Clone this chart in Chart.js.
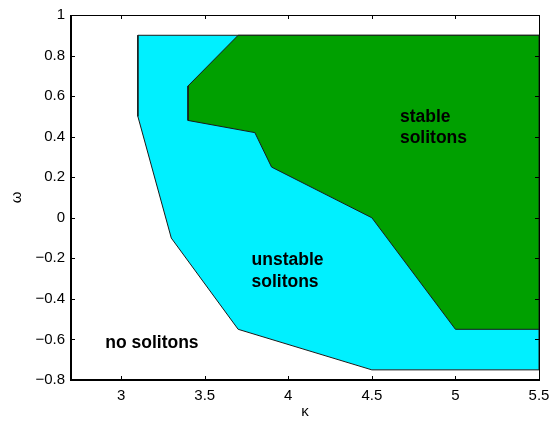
<!DOCTYPE html>
<html>
<head>
<meta charset="utf-8">
<script src="https://cdn.jsdelivr.net/npm/chart.js@4/dist/chart.umd.min.js"></script>
<style>
  html, body { margin: 0; padding: 0; background: #fff; }
  #wrap { width: 559px; height: 422px; }
</style>
</head>
<body>
<div id="wrap"><canvas id="c" width="559" height="422"></canvas></div>
<script>
// Existence region of solitons in the (kappa, omega) plane
const unstableKappa = [3.1, 3.1, 3.3, 3.7, 4.5, 5.5, 5.5, 3.1];
const unstableOmega = [0.9, 0.5, -0.1, -0.55, -0.75, -0.75, 0.9, 0.9];

const stableKappa = [3.7, 3.4, 3.4, 3.8, 3.9, 4.5, 5.0, 5.5, 5.5, 3.7];
const stableOmega = [0.9, 0.65, 0.48, 0.42, 0.25, 0.0, -0.55, -0.55, 0.9, 0.9];

const kappaTicks = [3, 3.5, 4, 4.5, 5, 5.5];
const omegaTicks = [-0.8, -0.6, -0.4, -0.2, 0, 0.2, 0.4, 0.6, 0.8, 1];

// Region labels: text lines, anchored at (kappa, omega) of the first baseline
const regionLabels = [
  { lines: ['stable', 'solitons'], kappa: 4.668, omega: 0.473 },
  { lines: ['unstable', 'solitons'], kappa: 3.78, omega: -0.234 },
  { lines: ['no solitons'], kappa: 2.905, omega: -0.644 }
];

const toPoints = (xs, ys) => xs.map((x, i) => ({ x: x, y: ys[i] }));
const fmt = v => {
  const s = (Math.round(v * 10) / 10).toString();
  return s.startsWith('-') ? '\u2212' + s.slice(1) : s;
};

const framePlugin = {
  id: 'frame',
  afterDatasetsDraw(chart) {
    const { ctx, chartArea: a, scales } = chart;
    const xs = scales.x, ys = scales.y;
    ctx.save();
    ctx.fillStyle = '#000';
    ctx.font = 'bold 17.5px "Liberation Sans", Arial, sans-serif';
    ctx.textAlign = 'left';
    ctx.textBaseline = 'alphabetic';
    regionLabels.forEach(l => {
      const px = xs.getPixelForValue(l.kappa);
      const py = ys.getPixelForValue(l.omega);
      l.lines.forEach((t, i) => ctx.fillText(t, px, py + i * 21.5));
    });

    // inward ticks on all four sides
    ctx.strokeStyle = '#000';
    ctx.lineWidth = 1;
    const tl = 4;
    ctx.beginPath();
    kappaTicks.forEach(k => {
      const px = Math.round(xs.getPixelForValue(k)) + 0.5;
      ctx.moveTo(px, a.bottom); ctx.lineTo(px, a.bottom - tl);
      ctx.moveTo(px, a.top); ctx.lineTo(px, a.top + tl);
    });
    omegaTicks.forEach(w => {
      const py = Math.round(ys.getPixelForValue(w)) + 0.5;
      ctx.moveTo(a.left, py); ctx.lineTo(a.left + tl, py);
      ctx.moveTo(a.right, py); ctx.lineTo(a.right - tl, py);
    });
    ctx.stroke();

    // box: heavier left/bottom axes, thin top/right
    ctx.beginPath();
    ctx.lineWidth = 1;
    ctx.moveTo(a.left, a.top + 0.5); ctx.lineTo(a.right + 0.5, a.top + 0.5);
    ctx.lineTo(a.right + 0.5, a.bottom);
    ctx.stroke();
    ctx.beginPath();
    ctx.lineWidth = 2;
    ctx.moveTo(a.left, a.top); ctx.lineTo(a.left, a.bottom); ctx.lineTo(a.right + 1, a.bottom);
    ctx.stroke();

    // axis titles
    ctx.font = '15px "Liberation Sans", Arial, sans-serif';
    ctx.textAlign = 'center';
    ctx.textBaseline = 'middle';
    ctx.fillText('\u03BA', (a.left + a.right) / 2, 412);
    ctx.translate(17, (a.top + a.bottom) / 2);
    ctx.rotate(-Math.PI / 2);
    ctx.fillText('\u03C9', 0, 0);
    ctx.restore();
  }
};

new Chart(document.getElementById('c'), {
  type: 'scatter',
  data: {
    datasets: [
      {
        label: 'stable solitons',
        data: toPoints(stableKappa, stableOmega),
        showLine: true,
        fill: 'shape',
        backgroundColor: '#00a000',
        borderColor: '#1a1a1a',
        borderWidth: 1,
        pointRadius: 0,
        tension: 0,
        order: 1
      },
      {
        label: 'unstable solitons',
        data: toPoints(unstableKappa, unstableOmega),
        showLine: true,
        fill: 'shape',
        backgroundColor: '#00f0ff',
        borderColor: '#1a1a1a',
        borderWidth: 1,
        pointRadius: 0,
        tension: 0,
        order: 2
      }
    ]
  },
  options: {
    responsive: false,
    animation: false,
    layout: { padding: { top: 11, right: 20, left: 0, bottom: 0 } },
    plugins: { legend: { display: false }, tooltip: { enabled: false } },
    scales: {
      x: {
        type: 'linear',
        min: 2.7, max: 5.5,
        grid: { display: false, drawTicks: false },
        border: { display: false },
        afterFit(s) { s.height = 42; },
        afterBuildTicks(s) { s.ticks = kappaTicks.map(v => ({ value: v })); },
        ticks: {
          color: '#000', padding: 7, maxRotation: 0,
          font: { family: '"Liberation Sans", Arial, sans-serif', size: 15 },
          callback: v => fmt(v)
        }
      },
      y: {
        type: 'linear',
        min: -0.8, max: 1,
        grid: { display: false, drawTicks: false },
        border: { display: false },
        afterFit(s) { s.width = 71; },
        afterBuildTicks(s) { s.ticks = omegaTicks.map(v => ({ value: v })); },
        ticks: {
          color: '#000', padding: 6,
          font: { family: '"Liberation Sans", Arial, sans-serif', size: 15 },
          callback: v => fmt(v)
        }
      }
    }
  },
  plugins: [framePlugin]
});
</script>
</body>
</html>
